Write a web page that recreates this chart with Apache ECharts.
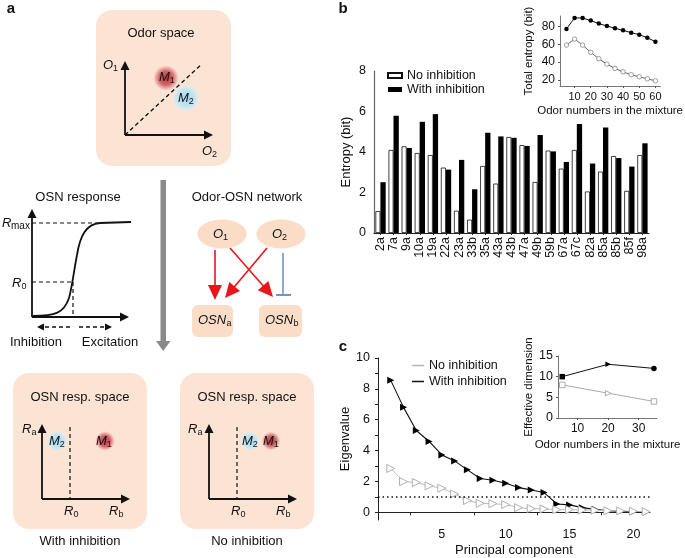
<!DOCTYPE html>
<html><head><meta charset="utf-8">
<script src="https://cdn.jsdelivr.net/npm/echarts@6/dist/echarts.min.js"></script>
<style>html,body{margin:0;padding:0;background:#fff}#main{width:685px;height:558px}</style>
</head><body><div id="main"></div>
<script>
// ---------- data ----------
const categories = ['2a','7a','9a','10a','19a','22a','23a','33b','35a','43a','43b','47a','49b','59b','67a','67c','82a','85a','85b','85f','98a'];
const entropyNoInhibition = [1.08,4.10,4.28,3.95,3.85,3.23,1.10,0.66,3.31,2.44,4.74,4.34,2.52,4.07,3.18,4.10,2.05,3.03,3.80,2.08,3.85];
const entropyWithInhibition = [2.51,5.79,4.20,5.49,5.87,3.13,3.61,2.16,4.95,4.77,4.70,4.30,4.84,4.03,3.51,5.38,3.43,5.21,3.70,3.28,4.43];
const mixtureSizes = [5,10,15,20,25,30,35,40,45,50,55,60];
const totalEntropyWith = [77.4,89.8,89.8,86.8,83.4,80.8,78.1,75.8,73.2,70.9,67.5,63.0];
const totalEntropyNo = [59.2,66.0,59.2,51.0,43.8,37.7,32.8,29.0,25.7,23.4,21.1,18.9];
const components = [1,2,3,4,5,6,7,8,9,10,11,12,13,14,15,16,17,18,19,20,21];
const eigenWith = [8.55,6.80,5.30,4.59,3.72,3.33,2.75,2.19,2.08,1.88,1.60,1.45,1.28,0.54,0.48,0.30,0.19,0.10,0.06,0.04,0.02];
const eigenNo = [2.84,1.99,1.93,1.71,1.56,1.19,0.76,0.58,0.56,0.50,0.30,0.24,0.22,0.17,0.17,0.15,0.13,0.10,0.09,0.07,0.04];
const dimMixtureSizes = [5,20,35];
const effDimWith = [10,13,12];
const effDimNo = [8,6,4];
const eigenThreshold = 1;
const legendNames = ['No inhibition','With inhibition'];

// ---------- styles ----------
const FONT = '"Liberation Sans", Arial, Helvetica, sans-serif';
const PEACH = '#fce4d5';
const PEACH2 = '#fbdcc7';
const RED = '#e8161b';
const BLUE = '#6c95c9';
const TRI = 'path://M0,0L10,5L0,10Z';

function axisBase(extra) {
  return Object.assign({
    axisLine: {lineStyle: {color: '#222', width: 1}},
    axisTick: {lineStyle: {color: '#222', width: 1}, length: 3},
    axisLabel: {color: '#111', fontFamily: FONT, fontSize: 12.5},
    splitLine: {show: false},
    nameTextStyle: {color: '#111', fontFamily: FONT, fontSize: 13}
  }, extra);
}
function range(a, b, s) { const r = []; for (let v = a; v <= b + 1e-9; v += s) r.push(+v.toFixed(4)); return r; }
function pairs(xs, ys) { return xs.map((x, i) => [x, ys[i]]); }

// ---------- graphic helpers for schematic ----------
const G = [];
function txt(x, y, s, o = {}) {
  G.push({type: 'text', x, y, z: 20, style: {text: s, fontSize: o.size || 13, fontFamily: FONT,
    fontStyle: o.italic ? 'italic' : 'normal', fontWeight: o.bold ? 'bold' : 'normal',
    fill: o.color || '#111', align: o.align || 'center', verticalAlign: o.va || 'middle'}});
}
function symb(x, y, main, sub, w) {
  txt(x, y, main, {italic: true, align: 'left'});
  txt(x + w, y + 4, sub, {size: 9, align: 'left'});
}
function ln(x1, y1, x2, y2, color, width, dash) {
  G.push({type: 'line', z: 15, shape: {x1, y1, x2, y2}, style: {stroke: color || '#111', lineWidth: width || 1.6, lineDash: dash || null}});
}
function bez(x1, y1, cpx1, cpy1, cpx2, cpy2, x2, y2) {
  G.push({type: 'bezierCurve', z: 16, shape: {x1, y1, cpx1, cpy1, cpx2, cpy2, x2, y2}, style: {stroke: '#111', lineWidth: 1.8, fill: null}});
}
function head(tx, ty, dx, dy, len, hw, color) {
  const L = Math.hypot(dx, dy), ux = dx / L, uy = dy / L;
  const bx = tx - ux * len, by = ty - uy * len;
  G.push({type: 'polygon', z: 16, shape: {points: [[tx, ty], [bx - uy * hw, by + ux * hw], [bx + uy * hw, by - ux * hw]]}, style: {fill: color || '#111'}});
}
function arrow(x1, y1, x2, y2, color, width, len, hw, dash) {
  const L = Math.hypot(x2 - x1, y2 - y1), ux = (x2 - x1) / L, uy = (y2 - y1) / L;
  ln(x1, y1, x2 - ux * (len - 1), y2 - uy * (len - 1), color, width, dash);
  head(x2, y2, ux, uy, len, hw, color);
}
function box(x, y, w, h, r, fill) {
  G.push({type: 'rect', z: 5, shape: {x, y, width: w, height: h, r}, style: {fill: fill || PEACH}});
}
function blob(cx, cy, rx, ry, kind) {
  const stops = kind === 'red'
    ? [{offset: 0, color: '#b8343d'}, {offset: 0.55, color: '#d2676d'}, {offset: 0.8, color: 'rgba(228,140,140,0.6)'}, {offset: 1, color: 'rgba(240,180,180,0)'}]
    : [{offset: 0, color: '#a9dbee'}, {offset: 0.6, color: '#bde4f2'}, {offset: 0.85, color: 'rgba(200,236,248,0.6)'}, {offset: 1, color: 'rgba(210,240,250,0)'}];
  G.push({type: 'ellipse', z: 10, shape: {cx, cy, rx, ry}, style: {fill: {type: 'radial', x: 0.5, y: 0.5, r: 0.5, colorStops: stops}}});
}

// panel letters
txt(11, 9, 'a', {bold: true, size: 15});
txt(343, 9, 'b', {bold: true, size: 15});
txt(343, 347, 'c', {bold: true, size: 15});

// Odor space
box(96, 10, 135, 156, 16);
txt(161, 33, 'Odor space');
arrow(125, 135, 125, 61, '#111', 1.8, 9, 4.5);
arrow(125, 135, 213, 135, '#111', 1.8, 9, 4.5);
ln(125, 135, 202, 64, '#111', 1.4, [4, 3]);
blob(166, 78, 13, 13, 'red');
blob(186, 98, 13.5, 13.5, 'blue');
symb(103, 65, 'O', '1', 10);
symb(202, 151, 'O', '2', 10);
symb(159, 77, 'M', '1', 10.8);
symb(178, 98, 'M', '2', 10.8);

// big gray arrow
G.push({type: 'rect', z: 5, shape: {x: 160.5, y: 180, width: 5.5, height: 163}, style: {fill: '#8a8a8a'}});
G.push({type: 'polygon', z: 5, shape: {points: [[156, 341], [170.5, 341], [163.2, 351]]}, style: {fill: '#8a8a8a'}});

// OSN response
txt(78, 197, 'OSN response');
arrow(32, 317, 32, 209, '#111', 1.8, 9, 4.5);
arrow(32, 317, 129, 317, '#111', 1.8, 9, 4.5);
ln(32, 223, 100, 223, '#111', 1.2, [4, 3]);
ln(32, 282, 73, 282, '#111', 1.2, [4, 3]);
ln(73, 282, 73, 317, '#111', 1.2, [4, 3]);
bez(33, 316, 55, 316, 64, 313, 69, 298);
bez(69, 298, 72, 288, 74, 270, 77, 255);
bez(77, 255, 80, 236, 86, 224, 100, 223);
ln(100, 223, 131, 222, '#111', 1.8);
txt(2, 223, 'R', {italic: true, align: 'left'});
txt(11, 226, 'max', {size: 10, align: 'left'});
symb(12, 283, 'R', '0', 9.4);
arrow(70, 327, 37, 327, '#111', 1.3, 7, 3.5, [4, 3]);
arrow(79, 327, 112, 327, '#111', 1.3, 7, 3.5, [4, 3]);
txt(36, 342, 'Inhibition');
txt(110, 342, 'Excitation');

// Odor-OSN network
txt(247, 197, 'Odor-OSN network');
G.push({type: 'ellipse', z: 5, shape: {cx: 222, cy: 234, rx: 24.5, ry: 14.5}, style: {fill: PEACH2}});
G.push({type: 'ellipse', z: 5, shape: {cx: 281, cy: 234, rx: 24.5, ry: 14.5}, style: {fill: PEACH2}});
symb(213, 234, 'O', '1', 10);
symb(272, 234, 'O', '2', 10);
arrow(215, 250, 215, 300, RED, 1.6, 15, 7);
arrow(230, 248, 273, 297, RED, 1.6, 15, 7);
arrow(267, 248, 225, 298, RED, 1.6, 15, 7);
ln(283, 253, 283, 295, BLUE, 1.6);
ln(276, 295, 291, 295, BLUE, 2);
box(192, 305, 41, 32, 6, PEACH2);
box(259, 305, 43, 32, 6, PEACH2);
symb(198, 320, 'OSN', 'a', 28.5);
symb(265, 320, 'OSN', 'b', 28.5);

// OSN resp. space (with inhibition)
box(13, 373, 134, 156, 16);
txt(80, 397, 'OSN resp. space');
arrow(42, 499, 42, 424, '#111', 1.8, 9, 4.5);
arrow(42, 499, 130, 499, '#111', 1.8, 9, 4.5);
ln(70, 427, 70, 499, '#111', 1.2, [4, 3]);
blob(57, 441, 13, 10, 'blue');
blob(105, 441, 13, 10, 'red');
symb(49, 441, 'M', '2', 10.8);
symb(96, 441, 'M', '1', 10.8);
symb(22, 429, 'R', 'a', 9.4);
symb(64, 511, 'R', '0', 9.4);
symb(109, 511, 'R', 'b', 9.4);
txt(80, 541, 'With inhibition');

// OSN resp. space (no inhibition)
box(180, 373, 134, 156, 16);
txt(247, 397, 'OSN resp. space');
arrow(209, 499, 209, 424, '#111', 1.8, 9, 4.5);
arrow(209, 499, 297, 499, '#111', 1.8, 9, 4.5);
ln(237, 427, 237, 499, '#111', 1.2, [4, 3]);
blob(250, 441, 11, 9.5, 'blue');
blob(271, 441, 11, 9.5, 'red');
symb(242, 441, 'M', '2', 10.8);
symb(263, 441, 'M', '1', 10.8);
symb(188, 429, 'R', 'a', 9.4);
symb(231, 511, 'R', '0', 9.4);
symb(276, 511, 'R', 'b', 9.4);
txt(247, 541, 'No inhibition');

// ---------- chart ----------
const chart = echarts.init(document.getElementById('main'), null, {renderer: 'canvas'});
const option = {
  animation: false,
  backgroundColor: '#fff',
  textStyle: {fontFamily: FONT},
  graphic: G,
  legend: [
    {left: 382, top: 64, orient: 'vertical', itemWidth: 14, itemHeight: 5, itemGap: 1, icon: 'rect',
     textStyle: {fontSize: 12.5, color: '#111', fontFamily: FONT}, data: legendNames, selectedMode: false},
    {left: 407, top: 354, orient: 'vertical', itemWidth: 12, itemHeight: 1.5, itemGap: 3, icon: 'rect',
     textStyle: {fontSize: 12.5, color: '#111', fontFamily: FONT}, selectedMode: false,
     formatter: n => n === 'c_no' ? legendNames[0] : legendNames[1],
     data: [{name: 'c_no', itemStyle: {color: '#b5b5b5', borderWidth: 0}}, {name: 'c_with', itemStyle: {color: '#111', borderWidth: 0}}]}
  ],
  grid: [
    {left: 374, top: 71, width: 275, height: 162},
    {left: 560, top: 16, width: 105, height: 70},
    {left: 378, top: 358, width: 272, height: 162},
    {left: 558, top: 356, width: 99, height: 62}
  ],
  xAxis: [
    axisBase({gridIndex: 0, type: 'category', data: categories, boundaryGap: true,
      axisTick: {show: true, alignWithLabel: true, length: 2, lineStyle: {color: '#222'}},
      axisLabel: {rotate: 90, margin: 4, color: '#111', fontFamily: FONT, fontSize: 12.5, interval: 0}}),
    axisBase({gridIndex: 1, type: 'value', min: 1, max: 63,
      axisLabel: {customValues: range(10, 60, 10), color: '#111', fontFamily: FONT, fontSize: 11, margin: 5},
      axisTick: {customValues: range(10, 60, 10), length: 2, lineStyle: {color: '#555'}},
      axisLine: {lineStyle: {color: '#777', width: 1}},
      name: 'Odor numbers in the mixture', nameLocation: 'middle', nameGap: 19,
      nameTextStyle: {fontSize: 11.5, color: '#111', fontFamily: FONT}}),
    axisBase({gridIndex: 2, type: 'value', min: 0, max: 21.3,
      axisLabel: {customValues: range(5, 20, 5), color: '#111', fontFamily: FONT, fontSize: 12.5, margin: 8},
      axisTick: {customValues: [2.5, 7.5, 12.5, 17.5], length: 3, lineStyle: {color: '#222'}},
      name: 'Principal component', nameLocation: 'middle', nameGap: 24}),
    axisBase({gridIndex: 3, type: 'value', min: 3.6, max: 36,
      axisLabel: {customValues: range(10, 30, 10), color: '#111', fontFamily: FONT, fontSize: 12, margin: 5},
      axisTick: {customValues: range(10, 30, 10), length: 2, lineStyle: {color: '#555'}},
      axisLine: {lineStyle: {color: '#777', width: 1}},
      name: 'Odor numbers in the mixture', nameLocation: 'middle', nameGap: 21,
      nameTextStyle: {fontSize: 11.5, color: '#111', fontFamily: FONT}})
  ],
  yAxis: [
    axisBase({gridIndex: 0, type: 'value', min: 0, max: 8,
      axisLabel: {customValues: range(0, 8, 2), color: '#111', fontFamily: FONT, fontSize: 12.5},
      axisTick: {customValues: range(0, 8, 1), length: 3, lineStyle: {color: '#444'}},
      axisLine: {show: true, lineStyle: {color: '#666', width: 1.2}},
      name: 'Entropy (bit)', nameLocation: 'middle', nameGap: 21, nameRotate: 90}),
    axisBase({gridIndex: 1, type: 'value', min: 13, max: 92,
      axisLabel: {customValues: range(20, 80, 20), color: '#111', fontFamily: FONT, fontSize: 12, margin: 5},
      axisTick: {customValues: range(20, 80, 20), length: 2, lineStyle: {color: '#555'}},
      axisLine: {show: true, lineStyle: {color: '#777', width: 1}},
      name: 'Total entropy (bit)', nameLocation: 'middle', nameGap: 25, nameRotate: 90,
      nameTextStyle: {fontSize: 11.5, color: '#111', fontFamily: FONT}}),
    axisBase({gridIndex: 2, type: 'value', min: -0.5, max: 10,
      axisLabel: {customValues: range(0, 10, 2), color: '#111', fontFamily: FONT, fontSize: 12.5},
      axisTick: {customValues: range(0, 10, 1), length: 3, lineStyle: {color: '#222'}},
      axisLine: {show: true, lineStyle: {color: '#222', width: 1}},
      name: 'Eigenvalue', nameLocation: 'middle', nameGap: 26, nameRotate: 90}),
    axisBase({gridIndex: 3, type: 'value', min: 0, max: 15,
      axisLabel: {customValues: range(0, 15, 5), color: '#111', fontFamily: FONT, fontSize: 12.5, margin: 5},
      axisTick: {customValues: range(0, 15, 5), length: 2, lineStyle: {color: '#555'}},
      axisLine: {show: true, lineStyle: {color: '#777', width: 1}},
      name: 'Effective dimension', nameLocation: 'middle', nameGap: 22, nameRotate: 90,
      nameTextStyle: {fontSize: 11.5, color: '#111', fontFamily: FONT}})
  ],
  series: [
    {name: legendNames[0], type: 'bar', xAxisIndex: 0, yAxisIndex: 0, data: entropyNoInhibition,
     barWidth: 5, barGap: '0%', itemStyle: {color: '#fff', borderColor: '#111', borderWidth: 0.8}},
    {name: legendNames[1], type: 'bar', xAxisIndex: 0, yAxisIndex: 0, data: entropyWithInhibition,
     barWidth: 5.3, barGap: '0%', itemStyle: {color: '#000'}},
    {name: 'b_inset_with', type: 'line', xAxisIndex: 1, yAxisIndex: 1, data: pairs(mixtureSizes, totalEntropyWith),
     symbol: 'circle', symbolSize: 4.5, lineStyle: {color: '#111', width: 1}, itemStyle: {color: '#000'}},
    {name: 'b_inset_no', type: 'line', xAxisIndex: 1, yAxisIndex: 1, data: pairs(mixtureSizes, totalEntropyNo),
     symbol: 'circle', symbolSize: 4.5, lineStyle: {color: '#666', width: 1}, itemStyle: {color: '#fff', borderColor: '#888', borderWidth: 0.8}},
    {name: 'c_with', type: 'line', xAxisIndex: 2, yAxisIndex: 2, data: pairs(components, eigenWith), z: 3,
     symbol: TRI, symbolSize: [7, 7], lineStyle: {color: '#111', width: 1.1}, itemStyle: {color: '#000'}},
    {name: 'c_no', type: 'line', xAxisIndex: 2, yAxisIndex: 2, data: pairs(components, eigenNo), z: 4,
     symbol: TRI, symbolSize: [8, 8], lineStyle: {color: '#bdbdbd', width: 1}, itemStyle: {color: '#fff', borderColor: '#a8a8a8', borderWidth: 0.9},
     markLine: {silent: true, symbol: 'none', label: {show: false}, lineStyle: {color: '#111', type: [1.5, 3], width: 1.5},
       data: [{yAxis: eigenThreshold}]}},
    {name: 'c_inset_with', type: 'line', xAxisIndex: 3, yAxisIndex: 3,
     data: pairs(dimMixtureSizes, effDimWith).map((v, i) => ({value: v, symbol: ['rect', TRI, 'circle'][i]})),
     symbolSize: 5.5, lineStyle: {color: '#111', width: 1}, itemStyle: {color: '#000'}},
    {name: 'c_inset_no', type: 'line', xAxisIndex: 3, yAxisIndex: 3,
     data: pairs(dimMixtureSizes, effDimNo).map((v, i) => ({value: v, symbol: ['rect', TRI, 'rect'][i]})),
     symbolSize: 5.5, lineStyle: {color: '#aaa', width: 1}, itemStyle: {color: '#fff', borderColor: '#999', borderWidth: 0.8}}
  ]
};
chart.setOption(option);
</script>
</body></html>
